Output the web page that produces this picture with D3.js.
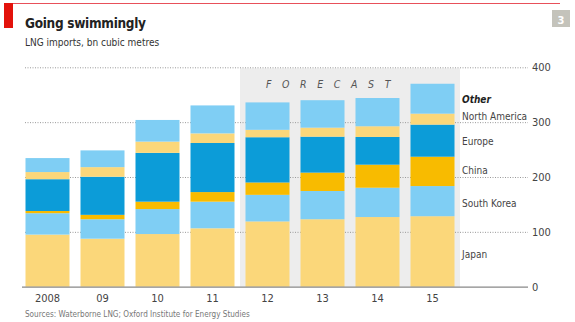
<!DOCTYPE html>
<html>
<head>
<meta charset="utf-8">
<script src="https://cdn.jsdelivr.net/npm/d3@7"></script>
<style>
  body { margin: 0; background: #fff; }
  svg { display: block; font-family: "DejaVu Sans Condensed", "Open Sans", sans-serif; }
</style>
</head>
<body>
<div id="chart"></div>
<script>
// data, bn cubic metres
const years = ['2008', '09', '10', '11', '12', '13', '14', '15']
const forecastYears = ['12', '13', '14', '15']
const series = ['Japan', 'South Korea', 'China', 'Europe', 'North America', 'Other']
const japan = [95, 87.5, 96, 106.5, 119, 123, 127, 128.5]
const southKorea = [39, 35.5, 45.5, 48.5, 48.5, 51.5, 53.5, 55]
const china = [4, 8, 13.5, 17.5, 22.5, 33.5, 42, 53.5]
const europe = [58, 69.5, 89, 89.5, 82.5, 65.5, 50.5, 58.5]
const northAmerica = [13, 17.5, 20.5, 17.5, 13.5, 16.5, 19.5, 20]
const other = [25.5, 30.5, 39.5, 51, 50, 50, 51.5, 54.5]
const yTicks = [0, 100, 200, 300, 400]

const colors = {
    'Japan': '#fbd77a',
    'South Korea': '#7fcef4',
    'China': '#f8bb00',
    'Europe': '#0c9cd8',
    'North America': '#fbd77a',
    'Other': '#7fcef4'
}

const width = 575, height = 322
const font = '"DejaVu Sans Condensed", sans-serif'

const table = years.map((y, i) => ({
    year: y,
    'Japan': japan[i],
    'South Korea': southKorea[i],
    'China': china[i],
    'Europe': europe[i],
    'North America': northAmerica[i],
    'Other': other[i]
}))

const svg = d3.select('#chart').append('svg')
    .attr('width', width)
    .attr('height', height)

//header: red rule, red tag, page number
svg.append('line')
    .attr('x1', 4).attr('x2', 560).attr('y1', 3.5).attr('y2', 3.5)
    .attr('stroke', '#e8505a').attr('stroke-width', 1)
svg.append('rect')
    .attr('x', 4).attr('y', 3).attr('width', 9).attr('height', 25)
    .attr('fill', '#e3120b')
svg.append('rect')
    .attr('x', 552).attr('y', 10).attr('width', 18).attr('height', 17)
    .attr('fill', '#c4c3bb')
svg.append('text')
    .attr('x', 561).attr('y', 23.5)
    .attr('text-anchor', 'middle')
    .attr('fill', '#fff')
    .style('font', `bold 11px ${font}`)
    .text('3')

svg.append('text')
    .attr('x', 25).attr('y', 28)
    .attr('fill', '#222')
    .attr('letter-spacing', -0.3)
    .style('font', `bold 13.5px ${font}`)
    .text('Going swimmingly')
svg.append('text')
    .attr('x', 25).attr('y', 45.5)
    .attr('fill', '#333')
    .style('font', `10px ${font}`)
    .text('LNG imports, bn cubic metres')

//scales
const x = d3.scaleBand()
    .domain(years)
    .range([20, 460])
    .paddingInner(0.2)
    .paddingOuter(0.1)

const y = d3.scaleLinear()
    .domain([0, 400])
    .range([286.7, 67.3])

//forecast shading
const fx0 = x(forecastYears[0]) - x.step() * 0.1
const fx1 = x(forecastYears[forecastYears.length - 1]) + x.bandwidth() + x.step() * 0.1
svg.append('rect')
    .attr('x', fx0).attr('y', y(400) + 1)
    .attr('width', fx1 - fx0).attr('height', y(0) - y(400) - 1)
    .attr('fill', '#ededed')
svg.append('text')
    .attr('x', fx0 + 26).attr('y', 88)
    .attr('fill', '#555')
    .attr('letter-spacing', 10.6)
    .style('font', `italic 10.5px ${font}`)
    .text('FORECAST')

//gridlines + right axis
const yAxis = svg.append('g')
    .attr('transform', 'translate(528,0)')
    .call(d3.axisRight(y).tickValues(yTicks).tickSize(0).tickPadding(4))
yAxis.select('.domain').remove()
yAxis.selectAll('.tick text')
    .attr('fill', '#444')
    .style('font', `11px ${font}`)
yAxis.selectAll('.tick')
    .filter(d => d !== 0)
    .append('line')
    .attr('x1', -503).attr('x2', 0)
    .attr('stroke', '#999')
    .attr('stroke-width', 1)
    .attr('stroke-dasharray', '1,1.5')

//stacked bars
const stack = d3.stack().keys(series)(table)
svg.append('g')
    .selectAll('g')
    .data(stack)
    .join('g')
    .attr('fill', d => colors[d.key])
    .selectAll('rect')
    .data(d => d)
    .join('rect')
    .attr('x', d => x(d.data.year))
    .attr('y', d => y(d[1]))
    .attr('width', x.bandwidth())
    .attr('height', d => y(d[0]) - y(d[1]))

//zero line
svg.append('line')
    .attr('x1', 22).attr('x2', 528)
    .attr('y1', y(0) + 0.5).attr('y2', y(0) + 0.5)
    .attr('stroke', '#888').attr('stroke-width', 1.2)

//x labels
const xAxis = svg.append('g')
    .attr('transform', `translate(0,${y(0)})`)
    .call(d3.axisBottom(x).tickSize(0).tickPadding(8))
xAxis.select('.domain').remove()
xAxis.selectAll('.tick text')
    .attr('fill', '#444')
    .style('font', `11px ${font}`)

//series labels at the right of the last bar
const labelY = {
    'Other': 99,
    'North America': 116,
    'Europe': 141,
    'China': 170,
    'South Korea': 203,
    'Japan': 254
}
svg.append('g')
    .selectAll('text')
    .data(series)
    .join('text')
    .attr('x', 462)
    .attr('y', d => labelY[d] + 4)
    .attr('fill', d => d === 'Other' ? '#222' : '#444')
    .style('font', d => d === 'Other'
        ? `italic bold 10px ${font}`
        : `10px ${font}`)
    .text(d => d)

svg.append('text')
    .attr('x', 25).attr('y', 316.5)
    .attr('fill', '#777')
    .style('font', `8.1px ${font}`)
    .text('Sources: Waterborne LNG; Oxford Institute for Energy Studies')
</script>
</body>
</html>
